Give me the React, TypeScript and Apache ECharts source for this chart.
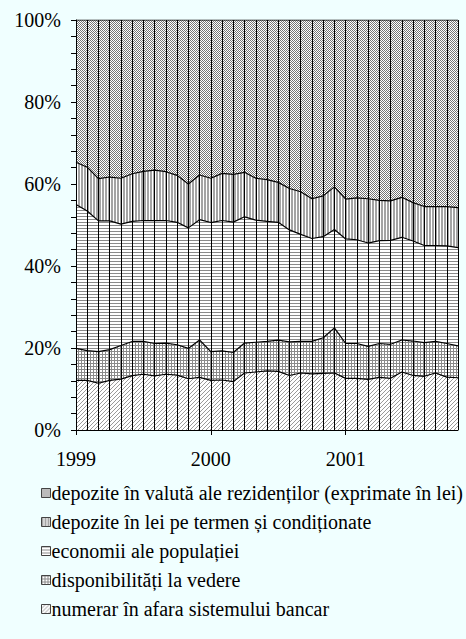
import React, { useEffect, useRef } from "react";
import * as echarts from "echarts";

const months: string[] = [
  "1999-01", "1999-02", "1999-03", "1999-04", "1999-05", "1999-06", "1999-07", "1999-08", "1999-09", "1999-10", "1999-11", "1999-12",
  "2000-01", "2000-02", "2000-03", "2000-04", "2000-05", "2000-06", "2000-07", "2000-08", "2000-09", "2000-10", "2000-11", "2000-12",
  "2001-01", "2001-02", "2001-03", "2001-04", "2001-05", "2001-06", "2001-07", "2001-08", "2001-09", "2001-10", "2001-11",
];

const numerar: number[] = [
  12.1, 12.1, 11.4, 12.1, 12.4, 13.25, 13.6, 13.2, 13.6, 13.4, 12.5, 12.85,
  12.1, 12.2, 11.8, 13.9, 14.15, 14.4, 14.3, 13.3, 13.9, 13.7, 13.8, 13.9,
  12.6, 12.6, 12.35, 12.85, 12.6, 14.15, 13.3, 13.1, 13.9, 12.9, 12.75,
];
const disponibilitati: number[] = [
  7.8, 7.25, 7.7, 7.5, 8.2, 8.35, 8.0, 7.9, 7.6, 7.4, 7.4, 9.1,
  7.0, 7.1, 7.1, 7.3, 7.25, 7.2, 7.6, 8.2, 7.7, 7.9, 8.7, 11.0,
  8.5, 8.5, 8.05, 8.25, 8.3, 7.8, 8.4, 8.2, 7.7, 8.2, 7.75,
];
const economii: number[] = [
  35.1, 34.05, 31.9, 31.4, 29.6, 29.3, 29.5, 29.95, 29.9, 29.85, 29.4, 29.35,
  31.5, 31.8, 31.8, 30.8, 29.8, 29.3, 28.75, 27.3, 26.1, 25.1, 24.65, 24.0,
  25.5, 25.3, 25.2, 25.1, 25.35, 25.05, 24.4, 23.7, 23.4, 23.8, 24.0,
];
const depoziteLei: number[] = [
  10.3, 10.7, 10.3, 10.7, 11.2, 11.6, 12.0, 12.35, 11.9, 11.45, 10.7, 10.9,
  10.8, 11.5, 11.65, 10.85, 10.2, 10.15, 9.75, 10.1, 10.4, 9.7, 9.95, 10.4,
  9.7, 10.2, 10.8, 9.8, 9.65, 9.75, 9.35, 9.5, 9.5, 9.6, 9.75,
];
const depoziteValuta: number[] = [
  34.7, 35.9, 38.7, 38.3, 38.6, 37.5, 36.9, 36.6, 37.0, 37.9, 40.0, 37.8,
  38.6, 37.4, 37.65, 37.15, 38.6, 38.95, 39.6, 41.1, 41.9, 43.6, 42.9, 40.7,
  43.7, 43.4, 43.6, 44.0, 44.1, 43.25, 44.55, 45.5, 45.5, 45.5, 45.75,
];

const seriesNames: string[] = [
  "numerar în afara sistemului bancar",
  "disponibilități la vedere",
  "economii ale populației",
  "depozite în lei pe termen și condiționate",
  "depozite în valută ale rezidenților (exprimate în lei)",
];

const yearLabels: string[] = ["1999", "2000", "2001"];

const FONT = "Liberation Serif";
const FS = 20;

type Tile = { rows: string[]; dark: string };

const tiles: Tile[] = [
  { rows: ["...#", "..#.", ".#..", "#..."], dark: "#9a9a9a" },
  { rows: ["###", "#..", "#.."], dark: "#8a8a8a" },
  { rows: ["#", ".", "."], dark: "#8a8a8a" },
  { rows: ["##."], dark: "#a4a4a4" },
  { rows: ["#.", ".#"], dark: "#767676" },
];

function makePattern(t: Tile): any {
  const h = t.rows.length;
  const w = t.rows[0].length;
  const c = document.createElement("canvas");
  c.width = w;
  c.height = h;
  const ctx = c.getContext("2d")!;
  for (let y = 0; y < h; y++) {
    for (let x = 0; x < w; x++) {
      ctx.fillStyle = t.rows[y][x] === "#" ? t.dark : "#ffffff";
      ctx.fillRect(x, y, 1, 1);
    }
  }
  return { image: c.toDataURL(), repeat: "repeat", imageWidth: w, imageHeight: h };
}

export default function App() {
  const ref = useRef<HTMLDivElement>(null);

  useEffect(() => {
    document.body.style.margin = "0";
    document.body.style.background = "#F0FFFF";
    if (!ref.current) return;
    const chart = echarts.init(ref.current, undefined, { renderer: "svg" });
    const dataSets = [numerar, disponibilitati, economii, depoziteLei, depoziteValuta];
    const patterns = tiles.map(makePattern);

    const series = dataSets.map((d, i) => ({
      name: seriesNames[i],
      type: "line",
      stack: "total",
      data: d,
      symbol: "none",
      lineStyle: { color: "#000", width: 1.2 },
      areaStyle: { color: patterns[i], opacity: 1 },
      itemStyle: { color: patterns[i], borderColor: "#333" },
      z: 2,
    }));

    const legendData = [4, 3, 2, 1, 0].map((i) => ({
      name: seriesNames[i],
      icon: "rect",
      itemStyle: { color: patterns[i], borderColor: "#444", borderWidth: 1 },
    }));

    chart.setOption({
      animation: false,
      backgroundColor: "#F0FFFF",
      textStyle: { fontFamily: FONT, fontSize: FS, color: "#000" },
      grid: { left: 76, right: 8, top: 20, bottom: 209 },
      legend: {
        orient: "vertical",
        left: 36,
        top: 478,
        itemWidth: 9,
        itemHeight: 9,
        itemGap: 9,
        data: legendData,
        textStyle: { fontFamily: FONT, fontSize: FS, color: "#000", padding: [0, 0, 0, -4] },
        selectedMode: false,
      },
      xAxis: {
        type: "category",
        data: months,
        boundaryGap: false,
        z: 10,
        axisLine: { show: true, lineStyle: { color: "#000", width: 1 } },
        axisTick: {
          show: true,
          length: 5,
          interval: (i: number) => i % 12 === 0,
          lineStyle: { color: "#000" },
        },
        axisLabel: {
          interval: (i: number) => i % 12 === 0,
          formatter: (v: string) => yearLabels[yearLabels.indexOf(v.slice(0, 4))],
          fontFamily: FONT,
          fontSize: FS,
          color: "#000",
          margin: 19,
          align: "center",
        },
        splitLine: { show: true, interval: 0, lineStyle: { color: "#000", width: 1 } },
      },
      yAxis: {
        type: "value",
        min: 0,
        max: 100,
        interval: 4,
        z: 10,
        axisLine: { show: true, lineStyle: { color: "#000", width: 1 } },
        axisTick: { show: true, length: 5, lineStyle: { color: "#000" } },
        axisLabel: {
          formatter: (v: number) => (v % 20 === 0 ? v + "%" : ""),
          fontFamily: FONT,
          fontSize: FS,
          color: "#000",
          margin: 15,
        },
        splitLine: { show: false },
      },
      series,
    });
    return () => chart.dispose();
  }, []);

  return (
    <div
      ref={ref}
      style={{ position: "fixed", left: 0, top: 0, width: 466, height: 639, background: "#F0FFFF" }}
    />
  );
}
